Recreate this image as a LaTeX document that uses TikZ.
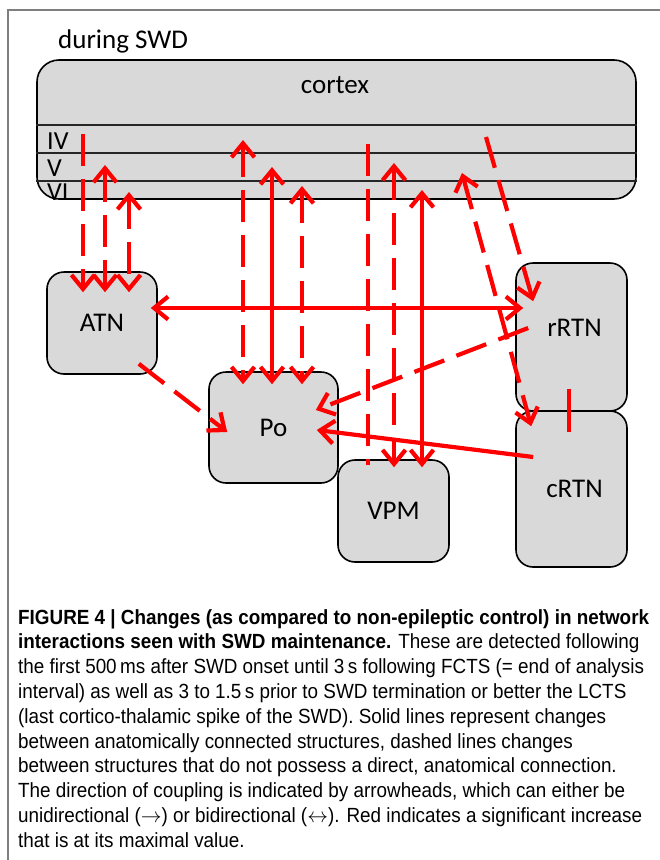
\documentclass[tikz,border=0pt]{standalone}
\usepackage{fontspec}
\setmainfont{Carlito}
\newfontfamily\capfont[FakeStretch=0.92]{Liberation Sans}
\usetikzlibrary{arrows.meta,calc}
\definecolor{boxgray}{HTML}{D9D9D9}
\definecolor{framegray}{HTML}{7F7F7F}
\newcommand\lab{\fontsize{27}{32}\selectfont}
\newcommand\laysz{\fontsize{26}{30}\selectfont}
\newcommand\capsz{\capfont\fontsize{20.5}{24.8}\selectfont}
\tikzset{
  box/.style={draw=black, line width=1.6pt, fill=boxgray, rounded corners=17pt,
    font=\lab, text height=17.4pt, text depth=0pt, inner sep=0pt},
  txt/.style={font=\lab, inner sep=0pt},
  laylab/.style={font=\laysz, inner sep=0pt, anchor=base west, text height=16pt, text depth=0pt},
  layer/.style={draw=black!85, line width=1.5pt},
  conn/.style={draw=red, line width=4.2pt},
  dsh/.style={conn, dash pattern=on 32pt off 13pt},
  capline/.style={anchor=base west, inner sep=0pt, font=\capsz},
  >={Straight Barb[length=14pt,width=23pt]},
}
\begin{document}
\begin{tikzpicture}[x=1pt,y=-1pt]
\useasboundingbox (0,0) rectangle (660,860);
\fill[white] (0,0) rectangle (660,860);
% frame
\draw[framegray, line width=1.5pt] (660,10) -- (8,10) -- (8,860);
% title
\node[txt, anchor=base west] (title) at (58,48) {during SWD};
% cortex
\node[box, rounded corners=22pt, minimum width=599pt, minimum height=139pt] (cortex) at (336.5,129.5) {};
\draw[layer] (cortex.west |- 0,125) -- (cortex.east |- 0,125);
\draw[layer] (cortex.west |- 0,153) -- (cortex.east |- 0,153);
\draw[layer] (cortex.west |- 0,181) -- (cortex.east |- 0,181);
\node[txt, anchor=base] (ctxlab) at (335,93) {cortex};
\node[laylab] (lIV) at (47,149.5) {IV};
\node[laylab] (lV) at (47,176) {V};
\node[laylab] (lVI) at (47,200) {VI};
% thalamic nuclei
\node[box, minimum width=110pt, minimum height=102pt] (ATN) at (102,323) {ATN};
\node[box, minimum width=129pt, minimum height=111pt] (Po) at (273.5,427.5) {Po};
\node[box, minimum width=111pt, minimum height=102pt] (VPM) at (393.5,511) {VPM};
\node[box, minimum width=111pt, minimum height=148pt, text depth=18pt] (rRTN) at (571.5,337) {\hspace*{6pt}rRTN};
\node[box, minimum width=111pt, minimum height=156pt] (cRTN) at (571.5,489) {\hspace*{6pt}cRTN};
% start points in the cortex
\coordinate (cA1) at (83,134);
\coordinate (cA2) at (105,165);
\coordinate (cA3) at (129,192);
\coordinate (cP1) at (243,140);
\coordinate (cP2) at (272,167);
\coordinate (cP3) at (302,186);
\coordinate (cV1) at (368,144);
\coordinate (cV2) at (394,163);
\coordinate (cV3) at (422,190);
\coordinate (cR1) at (486,137);
\coordinate (cR2) at (462,173);
% cortex - ATN
\draw[dsh,->] (cA1) -- ($(ATN.north)+(-19,21)$);
\draw[dsh,<->] (cA2) -- ($(ATN.north)+(3,21)$);
\draw[dsh,<->] (cA3) -- ($(ATN.north)+(27,21)$);
% cortex - Po
\draw[dsh,<->] (cP1) -- ($(Po.north)+(-30.5,13)$);
\draw[conn,<->] (cP2) -- ($(Po.north)+(-1.5,13)$);
\draw[dsh,<->] (cP3) -- ($(Po.north)+(28.5,13)$);
% cortex - VPM
\draw[dsh] (cV1) -- ($(VPM.north)+(-25.5,6)$);
\draw[dsh,<->] (cV2) -- ($(VPM.north)+(0.5,8)$);
\draw[conn,<->] (cV3) -- ($(VPM.north)+(28.5,8)$);
% cortex - RTN
\draw[dsh,->] (cR1) -- ($(rRTN.north west)+(18,39)$);
\draw[dsh,<->] (cR2) -- ($(cRTN.north west)+(16,16)$);
% ATN - rRTN
\draw[conn,<->] ($(ATN.east)+(-7,-15)$) -- ($(rRTN.west)+(8,-29)$);
% to Po
\draw[dsh,->] ($(ATN.south east)+(-19,-11)$) -- ($(Po.west)+(19,4.5)$);
\draw[dsh,->] ($(rRTN.west)+(13,-9)$) -- ($(Po.east)+(-23,-17.5)$);
\draw[conn,->] ($(cRTN.west)+(18,-32)$) -- ($(Po.east)+(-22,2.5)$);
% rRTN - cRTN
\draw[conn] ($(rRTN.south)+(-2.5,-23)$) -- ($(cRTN.north)+(-2.5,22)$);
% caption
\node[capline] (cap1) at (18,624.0) {\textbf{FIGURE 4 | Changes (as compared to non-epileptic control) in network}};
\node[capline] (cap2) at (18,648.8) {\textbf{interactions seen with SWD maintenance.} These are detected following};
\node[capline] (cap3) at (18,673.6) {the first 500\,ms after SWD onset until 3\,s following FCTS (= end of analysis};
\node[capline] (cap4) at (18,698.4) {interval) as well as 3 to 1.5\,s prior to SWD termination or better the LCTS};
\node[capline] (cap5) at (18,723.2) {(last cortico-thalamic spike of the SWD). Solid lines represent changes};
\node[capline] (cap6) at (18,748.0) {between anatomically connected structures, dashed lines changes};
\node[capline] (cap7) at (18,772.8) {between structures that do not possess a direct, anatomical connection.};
\node[capline] (cap8) at (18,797.6) {The direction of coupling is indicated by arrowheads, which can either be};
\node[capline] (cap9) at (18,822.4) {unidirectional ($\rightarrow$) or bidirectional ($\leftrightarrow$). Red indicates a significant increase};
\node[capline] (cap10) at (18,847.2) {that is at its maximal value.};
\end{tikzpicture}
\end{document}
